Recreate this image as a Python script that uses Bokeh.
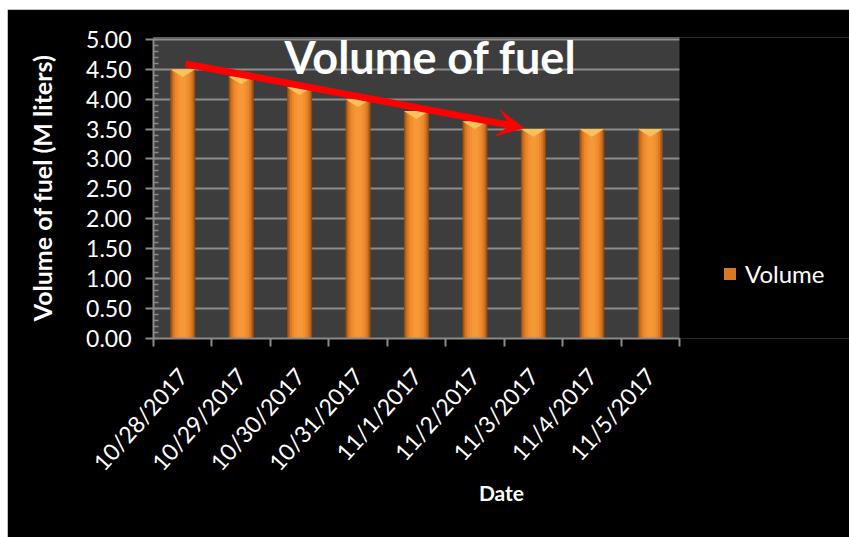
import math
from bokeh.plotting import figure
from bokeh.models import (Range1d, FixedTicker, SingleIntervalTicker, NumeralTickFormatter,
                          CustomJSTickFormatter, ColumnDataSource, Arrow, VeeHead, Label,
                          Legend, LegendItem, BoxAnnotation)
from bokeh.embed import file_html
from bokeh.resources import INLINE

# ---- data ----
dates = ["10/28/2017", "10/29/2017", "10/30/2017", "10/31/2017", "11/1/2017",
         "11/2/2017", "11/3/2017", "11/4/2017", "11/5/2017"]
volume = [4.50, 4.38, 4.20, 4.00, 3.80, 3.63, 3.50, 3.50, 3.50]
y_ticks_interval = 0.5
title_text = "Volume of fuel"
x_label = "Date"
y_label = "Volume of fuel (M liters)"
series_name = "Volume"

FONT = "Lato"

n = len(dates)
xs = [i + 0.5 for i in range(n)]
src = ColumnDataSource(dict(x=xs, top=volume, date=dates))

# frame spans to the right edge; the plot area proper is 526 px of 696 px
x_end = n * 696 / 526
p = figure(width=842, height=528, output_backend="svg", toolbar_location=None,
           x_range=Range1d(0, x_end), y_range=Range1d(0, 5.03),
           min_border_left=146, min_border_right=0, min_border_top=28,
           min_border_bottom=199)
p.margin = (9, 0, 0, 7)
p.border_fill_color = "black"
p.background_fill_color = "#3d3d3d"
p.outline_line_color = None

# bars: layered to mimic cylinder shading
bw = 0.43
shades = [(1.00, "#8f4c14"), (0.90, "#b9641c"), (0.78, "#d97823"),
          (0.62, "#ec872a"), (0.45, "#f39031"), (0.25, "#f59838")]
renderers = []
for frac, col in shades:
    renderers.append(p.vbar(x="x", top="top", width=bw * frac, bottom=0, source=src,
                            fill_color=col, line_color=None))
# conical cap
cap_xs = [[x - bw / 2, x + bw / 2, x] for x in xs]
cap_ys = [[v, v, v - 0.13] for v in volume]
p.patches(cap_xs, cap_ys, fill_color="#f8c25c", line_color=None)

# axes
xa = p.xaxis[0]
xa.bounds = (0, n)
xa.ticker = FixedTicker(ticks=xs, minor_ticks=list(range(n + 1)))
xa.formatter = CustomJSTickFormatter(args=dict(labels=dates),
                                     code="return labels[Math.floor(tick)] || '';")
xa.major_tick_out = 0
xa.major_tick_in = 0
xa.minor_tick_out = 8
xa.minor_tick_in = 0
xa.minor_tick_line_color = "#8a8a8a"
xa.minor_tick_line_width = 2
xa.axis_line_color = "#8a8a8a"
xa.axis_line_width = 2
xa.major_label_orientation = 0.84
xa.major_label_standoff = 25
xa.major_label_text_color = "white"
xa.major_label_text_font = FONT
xa.major_label_text_font_size = "23px"
xa.axis_label = x_label
xa.axis_label_text_color = "white"
xa.axis_label_text_font = FONT
xa.axis_label_text_font_style = "bold"
xa.axis_label_text_font_size = "21px"
xa.axis_label_standoff = -8

ya = p.yaxis[0]
ya.bounds = (0, 5)
ya.ticker = SingleIntervalTicker(interval=y_ticks_interval, num_minor_ticks=5)
ya.formatter = NumeralTickFormatter(format="0.00")
ya.major_tick_out = 8
ya.major_tick_in = 0
ya.minor_tick_in = 5
ya.minor_tick_out = 0
ya.major_tick_line_color = "#8a8a8a"
ya.minor_tick_line_color = "#8a8a8a"
ya.major_tick_line_width = 2
ya.minor_tick_line_width = 1.5
ya.axis_line_color = "#8a8a8a"
ya.axis_line_width = 2
ya.major_label_standoff = 14
ya.major_label_text_color = "white"
ya.major_label_text_font = FONT
ya.major_label_text_font_size = "23px"
ya.axis_label = y_label
ya.axis_label_text_color = "white"
ya.axis_label_text_font = FONT
ya.axis_label_text_font_style = "bold"
ya.axis_label_text_font_size = "25px"
ya.axis_label_standoff = 26

p.xgrid.visible = False
p.ygrid.ticker = SingleIntervalTicker(interval=y_ticks_interval)
p.ygrid.bounds = (0.25, 5.5)
p.ygrid.grid_line_color = "#8c8c8c"
p.ygrid.grid_line_width = 2

# black area to the right of the plot area (legend region), above the grid
p.add_layout(BoxAnnotation(left=n, bottom=-0.2, top=5.2, fill_color="black",
                           fill_alpha=1.0, line_color=None, level="glyph"))

# title inside the plot area
p.add_layout(Label(x=277 / 58.44, y=4.70, text=title_text,
                   text_align="center", text_baseline="alphabetic",
                   text_color="white", text_font=FONT, text_font_style="bold",
                   text_font_size="45px"))

# red trend arrow
p.add_layout(Arrow(x_start=0.55, y_start=4.59, x_end=6.33, y_end=3.52,
                   line_color="#ff0000", line_width=7,
                   end=VeeHead(size=26, fill_color="#ff0000", line_color="#ff0000",
                               line_width=1)))

legend = Legend(items=[LegendItem(label=series_name, renderers=[renderers[2]])],
                location=(569, 50), padding=0, margin=0, spacing=0,
                glyph_width=15, glyph_height=15, label_standoff=8,
                label_text_color="white", label_text_font=FONT,
                label_text_font_size="24px",
                background_fill_alpha=0, border_line_color=None)
p.add_layout(legend)

open("out.html", "w").write(file_html(p, INLINE))
